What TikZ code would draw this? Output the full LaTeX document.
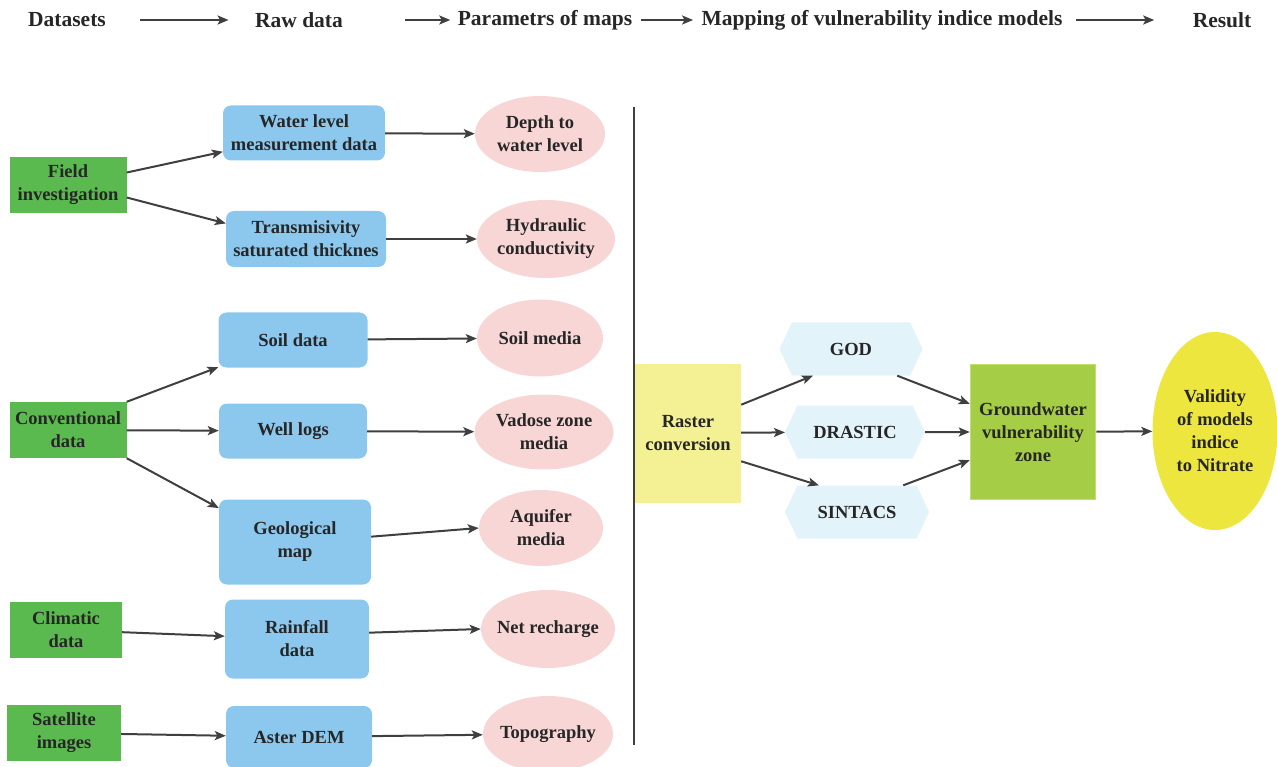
\documentclass[tikz,border=0pt]{standalone}
\usepackage{fontspec}
\setmainfont{Liberation Serif}
\usetikzlibrary{arrows.meta,shapes.geometric,shapes.symbols}

\definecolor{setgreen}{HTML}{5BBA4F}
\definecolor{rawblue}{HTML}{8CC8EE}
\definecolor{parampink}{HTML}{F9D6D6}
\definecolor{rasteryellow}{HTML}{F4F195}
\definecolor{modelblue}{HTML}{E3F3FA}
\definecolor{zonegreen}{HTML}{A5CD46}
\definecolor{zoneedge}{HTML}{C4DE6E}
\definecolor{resultyellow}{HTML}{EDE63F}
\definecolor{arrowgray}{HTML}{3F3F3F}

\begin{document}
\begin{tikzpicture}[x=1pt,y=-1pt,
		font=\fontsize{18.5}{23}\selectfont\bfseries,
		every node/.style={text=black!85,align=center,inner sep=0pt},
		dataset/.style={fill=setgreen,minimum width=117,minimum height=56},
		rawbox/.style={fill=rawblue,rounded corners=8pt},
		param/.style={ellipse,fill=parampink,inner xsep=-9pt},
		model/.style={shape=signal,signal to=east and west,signal pointer angle=130,fill=modelblue,minimum height=53},
		arr/.style={-{Stealth[length=11pt,width=9pt,inset=2.5pt]},line width=2pt,draw=arrowgray}]
		\useasboundingbox (0,0) rectangle (1277,767);

		% header
		\begin{scope}[every node/.style={text=black!85,font=\fontsize{21.5}{25}\selectfont\bfseries}]
			\node (hsets) at (67,20) {Datasets};
			\node (hraw) at (299,20) {Raw data};
			\node (hpar) at (545,20) {Parametrs of maps};
			\node (hmap) at (882,20) {Mapping of vulnerability indice models};
			\node (hres) at (1222,20) {Result};
		\end{scope}
		\draw [arr,shorten <=31pt,shorten >=23pt] (hsets) -- (hraw);
		\draw [arr,shorten <=59pt,shorten >=4pt] (hraw) -- (hpar);
		\draw [arr,shorten <=5pt,shorten >=5pt] (hpar) -- (hmap);
		\draw [arr,shorten <=10pt,shorten >=35pt] (hmap) -- (hres);

		% datasets
		\node [dataset] (field) at (68,185) {Field\\investigation};
		\node [dataset] (conv) at (68,430) {Conventional\\data};
		\node [dataset,minimum width=112] (clim) at (66,630) {Climatic\\data};
		\node [dataset,minimum width=114] (sat) at (64,733) {Satellite\\images};

		% raw data
		\node [rawbox,minimum width=162,minimum height=55] (water) at (304,133) {Water level\\measurement data};
		\node [rawbox,minimum width=160,minimum height=56] (trans) at (306,239) {Transmisivity\\saturated thicknes};
		\node [rawbox,minimum width=149,minimum height=55] (soil) at (293,340) {Soil data};
		\node [rawbox,minimum width=148,minimum height=55] (well) at (293,431) {Well logs};
		\node [rawbox,minimum width=152,minimum height=85] (geo) at (295,542) {Geological\\map};
		\node [rawbox,minimum width=144,minimum height=79] (rain) at (297,639) {Rainfall\\data};
		\node [rawbox,minimum width=146,minimum height=62] (aster) at (299,737) {Aster DEM};

		% parameters
		\node [param,minimum width=130,minimum height=76] (depth) at (540,134) {Depth to\\water level};
		\node [param,minimum width=138,minimum height=78] (hydro) at (546,239) {Hydraulic\\conductivity};
		\node [param,minimum width=126,minimum height=77] (soilm) at (540,338) {Soil media};
		\node [param,minimum width=139,minimum height=75] (vadose) at (544,432) {Vadose zone\\media};
		\node [param,minimum width=124,minimum height=76] (aquif) at (541,528) {Aquifer\\media};
		\node [param,minimum width=134,minimum height=78] (net) at (548,629) {Net recharge};
		\node [param,minimum width=130,minimum height=76] (topo) at (548,734) {Topography};

		% separator
		\draw [line width=1.5pt,draw=arrowgray] (634,107) -- (634,745);

		% mapping
		\node [fill=rasteryellow,minimum width=106,minimum height=139] (raster) at (688,433) {Raster\\conversion};
		\node [model,minimum width=143] (god) at (851,349) {GOD};
		\node [model,minimum width=140] (drastic) at (855,432) {DRASTIC};
		\node [model,minimum width=144] (sintacs) at (857,512) {SINTACS};
		\node [fill=zonegreen,draw=zoneedge,line width=1.5pt,minimum width=125,minimum height=135] (zone) at (1033,432) {Groundwater\\vulnerability\\zone};
		\node [ellipse,fill=resultyellow,minimum width=125,minimum height=198] (valid) at (1215,431) {Validity\\of models\\indice\\to Nitrate};

		% arrows
		\draw [arr] (field.12) -- (water.193);
		\draw [arr] (field.-12) -- (trans.169);
		\draw [arr] (conv.north east) -- (soil.200);
		\draw [arr] (conv) -- (well);
		\draw [arr] (conv.south east) -- (geo.156);
		\draw [arr] (clim) -- (rain);
		\draw [arr] (sat) -- (aster);

		\draw [arr] (water) -- (depth);
		\draw [arr] (trans) -- (hydro);
		\draw [arr] (soil) -- (soilm);
		\draw [arr] (well) -- (vadose);
		\draw [arr] (geo.4) -- (aquif.west);
		\draw [arr] (rain.5) -- (net.west);
		\draw [arr] (aster) -- (topo);

		\draw [arr] (raster.28) -- (god.215);
		\draw [arr] (raster) -- (drastic);
		\draw [arr] (raster.-28) -- (sintacs.145);
		\draw [arr] (god.-30) -- (zone.156);
		\draw [arr] (drastic) -- (zone);
		\draw [arr] (sintacs.30) -- (zone.-156);
		\draw [arr] (zone) -- (valid);
	\end{tikzpicture}
\end{document}
